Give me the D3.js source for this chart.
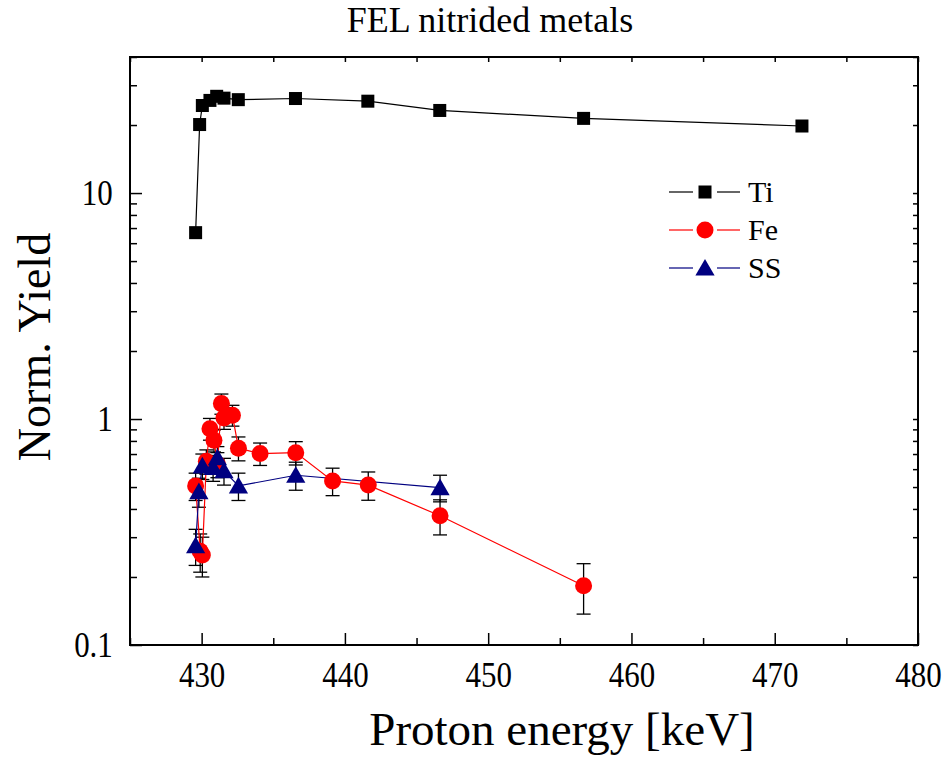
<!DOCTYPE html>
<html>
<head>
<meta charset="utf-8">
<script src="https://cdn.jsdelivr.net/npm/d3@7"></script>
<style>
  body { margin: 0; background: #fff; }
  svg text { font-family: "Liberation Serif", "Times New Roman", Times, serif !important; fill: #000; }
</style>
</head>
<body>
<svg id="chart" width="946" height="757"></svg>
<script>
// Proton energy (keV) and normalised yield for each nitrided metal
const tiEnergy = [429.58, 429.86, 430.05, 430.58, 431.05, 431.56, 432.56, 436.55, 441.6, 446.62, 456.66, 471.9];
const tiYield  = [6.68, 20.1, 24.4, 25.7, 26.8, 26.3, 25.9, 26.2, 25.5, 23.2, 21.4, 19.8];

const feEnergy = [429.58, 429.9, 430.05, 430.33, 430.58, 430.86, 431.1, 431.38, 431.56, 432.15, 432.57, 434.08, 436.57, 439.14, 441.63, 446.64, 456.66];
const feYield  = [0.506, 0.26, 0.25, 0.65, 0.906, 0.805, 0.63, 1.17, 1.01, 1.04, 0.743, 0.703, 0.71, 0.532, 0.51, 0.373, 0.183];
const feError  = [0.07, 0.05, 0.05, 0.08, 0.10, 0.09, 0.08, 0.12, 0.11, 0.11, 0.09, 0.08, 0.084, 0.074, 0.073, 0.066, 0.046];

const ssEnergy = [429.58, 429.81, 430.05, 430.8, 431.1, 431.56, 432.57, 436.57, 446.64];
const ssYield  = [0.275, 0.477, 0.62, 0.61, 0.675, 0.59, 0.506, 0.564, 0.497];
const ssError  = [0.05, 0.07, 0.08, 0.08, 0.08, 0.08, 0.07, 0.08, 0.067];

const xTicks = [430, 440, 450, 460, 470, 480];
const xMinorTicks = [425, 435, 445, 455, 465, 475];
const yTicks = [0.1, 1, 10];
const yTickLabels = ["0.1", "1", "10"];

const titleText = "FEL nitrided metals";
const xLabel = "Proton energy [keV]";
const yLabel = "Norm. Yield";

const seriesNames = ["Ti", "Fe", "SS"];

// ---- layout ----
const svg = d3.select("#chart");
const m = { left: 130, right: 918, top: 57, bottom: 645 };

const x = d3.scaleLinear().domain([425, 480]).range([m.left, m.right]);
const y = d3.scaleLog().domain([0.1, 40]).range([m.bottom, m.top]);

// minor ticks on the log axis: 2..9 in each decade, up to the top of the range
const yMinor = [];
[0.1, 1, 10].forEach(d => { for (let k = 2; k <= 9; k++) { const v = d * k; if (v <= 40) yMinor.push(v); } });

const plot = svg.append("g");

// ---- axes ----
// tick labels use a slightly condensed, taller serif face
const condense = 0.86;
function styleAxis(g) {
  g.attr("font-family", "Liberation Serif").attr("font-size", 36);
  g.select(".domain").remove();
  g.selectAll("line").attr("stroke", "#000").attr("stroke-width", 1.5);
  g.selectAll("text").attr("fill", "#000").attr("transform", `scale(${condense},1)`);
}

// bottom: major ticks with labels, minor ticks
svg.append("g").attr("transform", `translate(0,${m.bottom})`)
  .call(d3.axisBottom(x).tickValues(xTicks).tickSize(-12).tickPadding(16).tickFormat(d3.format("d")))
  .call(styleAxis);
svg.append("g").attr("transform", `translate(0,${m.bottom})`)
  .call(d3.axisBottom(x).tickValues(xMinorTicks).tickSize(-7).tickFormat(""))
  .call(styleAxis);

// top: short inward ticks
svg.append("g").attr("transform", `translate(0,${m.top})`)
  .call(d3.axisTop(x).tickValues(xTicks.concat(xMinorTicks)).tickSize(-5).tickFormat(""))
  .call(styleAxis);

// left: decade ticks with labels, minor ticks
svg.append("g").attr("transform", `translate(${m.left},0)`)
  .call(d3.axisLeft(y).tickValues(yTicks).tickSize(-12).tickPadding(20).tickFormat((d, i) => yTickLabels[i]))
  .call(styleAxis);
svg.append("g").attr("transform", `translate(${m.left},0)`)
  .call(d3.axisLeft(y).tickValues(yMinor).tickSize(-7).tickFormat(""))
  .call(styleAxis);

// right: short inward ticks
svg.append("g").attr("transform", `translate(${m.right},0)`)
  .call(d3.axisRight(y).tickValues(yTicks.concat(yMinor)).tickSize(-5).tickFormat(""))
  .call(styleAxis);

// frame
svg.append("rect")
  .attr("x", m.left).attr("y", m.top)
  .attr("width", m.right - m.left).attr("height", m.bottom - m.top)
  .attr("fill", "none").attr("stroke", "#000").attr("stroke-width", 2);

// ---- titles ----
svg.append("text").attr("x", 490).attr("y", 32).attr("text-anchor", "middle")
  .attr("font-size", 36).text(titleText);
svg.append("text").attr("x", 562).attr("y", 745).attr("text-anchor", "middle")
  .attr("font-size", 47).text(xLabel);
svg.append("text").attr("transform", "translate(50,347) rotate(-90)").attr("text-anchor", "middle")
  .attr("font-size", 46).text(yLabel);

// ---- series ----
function zip(xs, ys, es) { return xs.map((v, i) => ({ x: v, y: ys[i], e: es ? es[i] : 0 })); }
const ti = zip(tiEnergy, tiYield);
const fe = zip(feEnergy, feYield, feError);
const ss = zip(ssEnergy, ssYield, ssError);

const line = d3.line().x(d => x(d.x)).y(d => y(d.y));

function errorBars(data) {
  const g = plot.append("g").attr("stroke", "#000").attr("stroke-width", 1.3);
  data.forEach(d => {
    const cx = x(d.x), y0 = y(d.y - d.e), y1 = y(d.y + d.e);
    g.append("line").attr("x1", cx).attr("x2", cx).attr("y1", y0).attr("y2", y1);
    g.append("line").attr("x1", cx - 7).attr("x2", cx + 7).attr("y1", y0).attr("y2", y0);
    g.append("line").attr("x1", cx - 7).attr("x2", cx + 7).attr("y1", y1).attr("y2", y1);
  });
}

const triPath = d3.symbol().type(d3.symbolTriangle).size(160)();
const sqSize = 13;

// error bars first, then lines, then markers
errorBars(fe);
errorBars(ss);

plot.append("path").datum(fe).attr("d", line).attr("fill", "none").attr("stroke", "#ff0000").attr("stroke-width", 1.2);
plot.append("path").datum(ss).attr("d", line).attr("fill", "none").attr("stroke", "#000080").attr("stroke-width", 1.2);
plot.append("path").datum(ti).attr("d", line).attr("fill", "none").attr("stroke", "#000").attr("stroke-width", 1.2);

plot.append("g").selectAll("circle").data(fe).join("circle")
  .attr("cx", d => x(d.x)).attr("cy", d => y(d.y)).attr("r", 8.5).attr("fill", "#ff0000");
plot.append("g").selectAll("path").data(ss).join("path")
  .attr("transform", d => `translate(${x(d.x)},${y(d.y) + 2})`).attr("d", triPath).attr("fill", "#000080");
plot.append("g").selectAll("rect").data(ti).join("rect")
  .attr("x", d => x(d.x) - sqSize / 2).attr("y", d => y(d.y) - sqSize / 2)
  .attr("width", sqSize).attr("height", sqSize).attr("fill", "#000");

// ---- legend ----
const legendColors = ["#000", "#ff0000", "#000080"];
const legendY = [192, 230, 268];
const lg = svg.append("g");
seriesNames.forEach((name, i) => {
  const yy = legendY[i];
  lg.append("line").attr("x1", 669).attr("x2", 693).attr("y1", yy).attr("y2", yy).attr("stroke", legendColors[i]).attr("stroke-width", 1.2);
  lg.append("line").attr("x1", 717).attr("x2", 740).attr("y1", yy).attr("y2", yy).attr("stroke", legendColors[i]).attr("stroke-width", 1.2);
  if (i === 0) lg.append("rect").attr("x", 705 - sqSize / 2).attr("y", yy - sqSize / 2).attr("width", sqSize).attr("height", sqSize).attr("fill", "#000");
  if (i === 1) lg.append("circle").attr("cx", 705).attr("cy", yy).attr("r", 8.5).attr("fill", "#ff0000");
  if (i === 2) lg.append("path").attr("transform", `translate(705,${yy + 2})`).attr("d", triPath).attr("fill", "#000080");
  lg.append("text").attr("x", 748).attr("y", yy + 10).attr("font-size", 30).text(name);
});
</script>
</body>
</html>
